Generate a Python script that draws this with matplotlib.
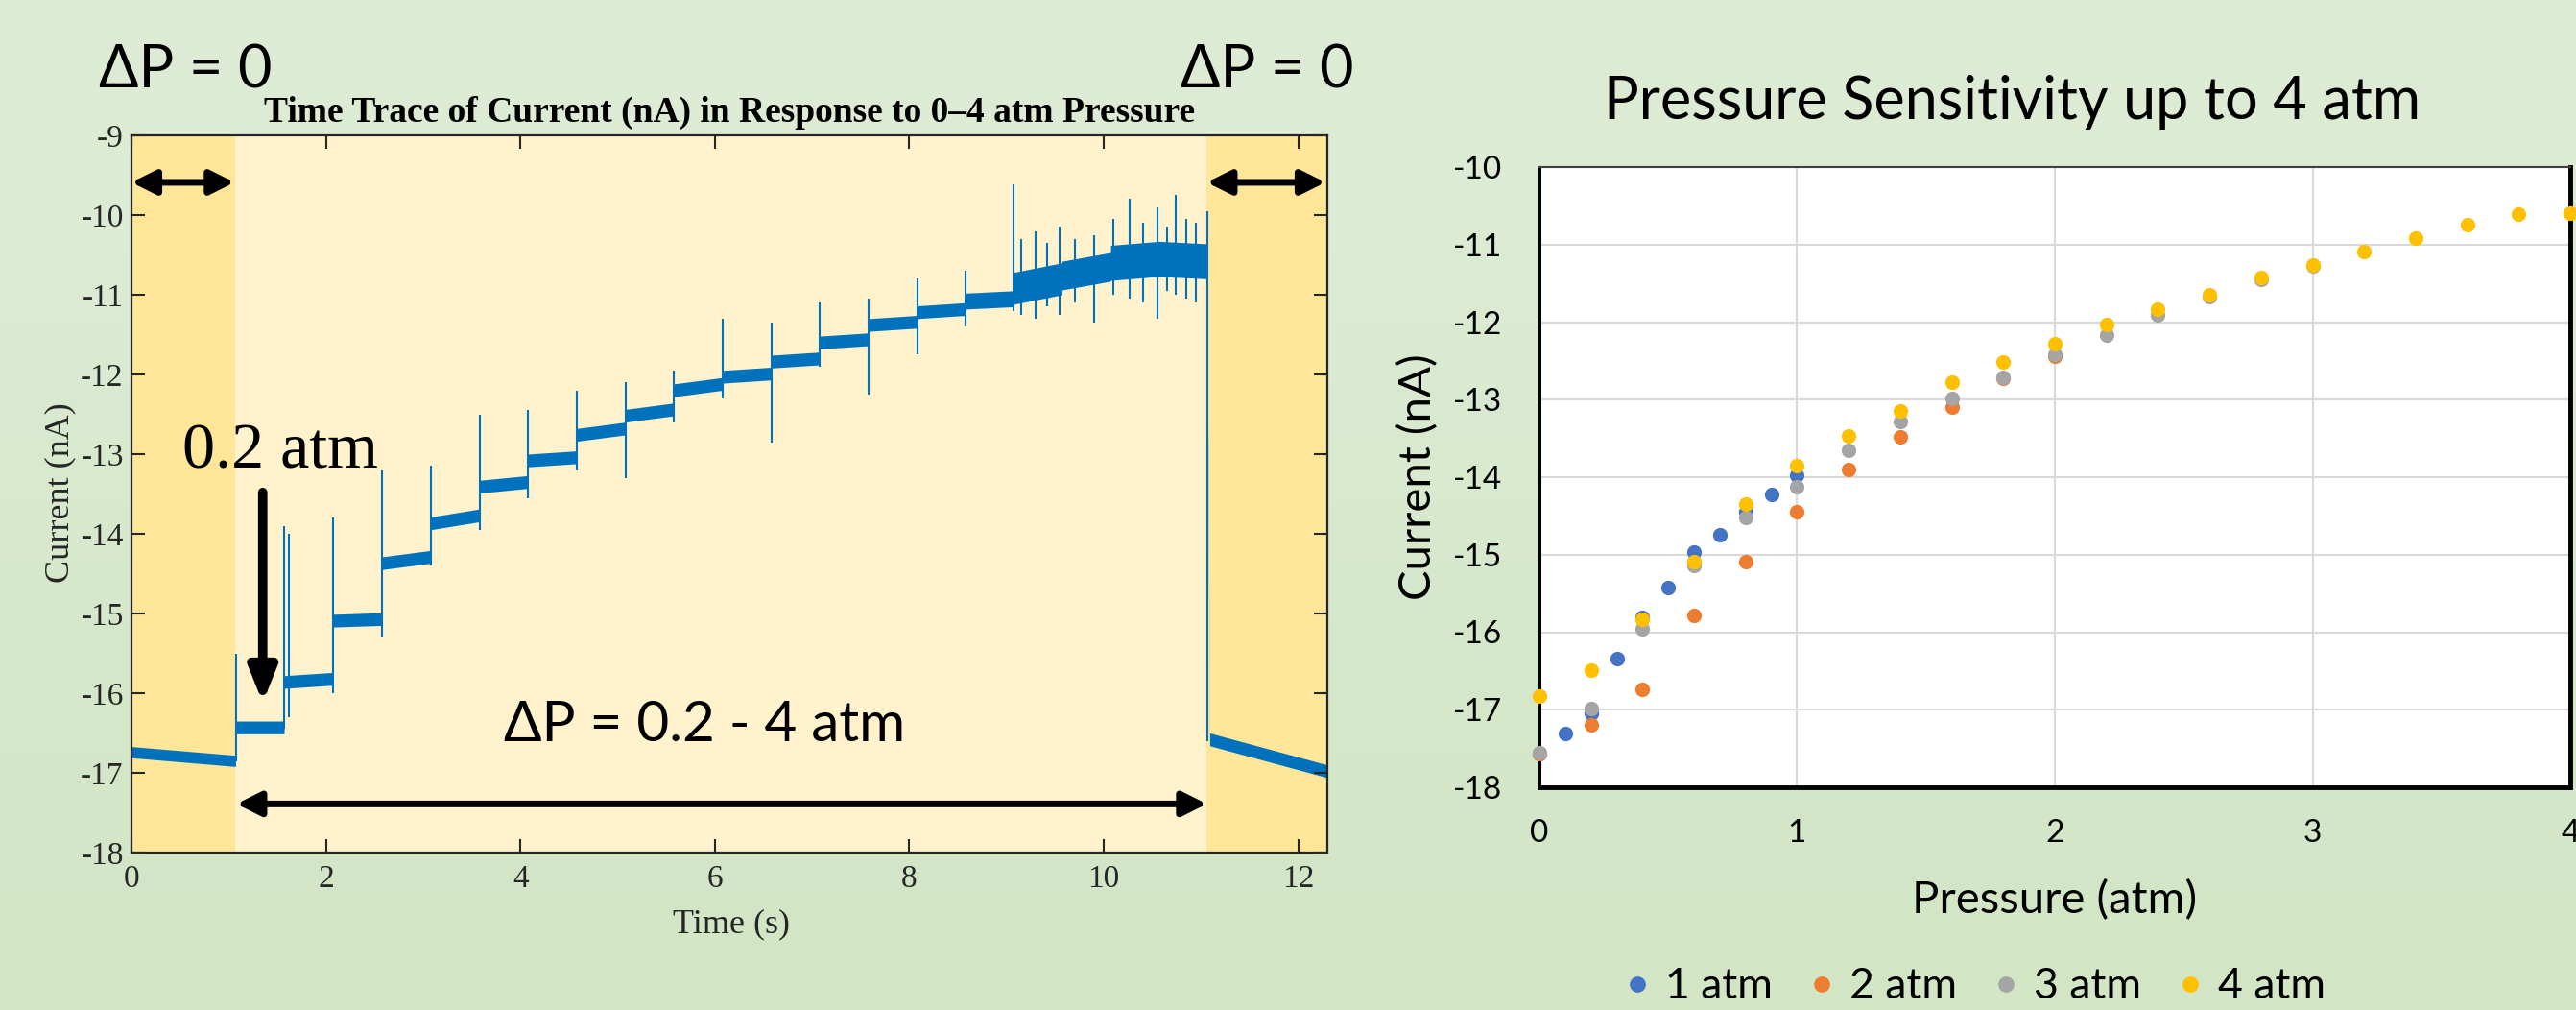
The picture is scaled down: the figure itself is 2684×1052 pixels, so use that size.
import numpy as np
import matplotlib.pyplot as plt
from matplotlib.lines import Line2D
from matplotlib.colors import LinearSegmentedColormap

plt.rcParams['axes.unicode_minus'] = False

# ---- left panel: current trace, step levels ----
seg_start = [0.0, 1.07, 1.57, 2.07, 2.57, 3.07, 3.57, 4.07, 4.57, 5.07, 5.57,
             6.07, 6.57, 7.07, 7.57, 8.07, 8.57, 9.07, 9.57, 10.07, 10.57, 11.09]
seg_end = [1.07, 1.57, 2.07, 2.57, 3.07, 3.57, 4.07, 4.57, 5.07, 5.57, 6.07,
           6.57, 7.07, 7.57, 8.07, 8.57, 9.07, 9.57, 10.07, 10.57, 11.06, 12.3]
level_start = [-16.74, -16.43, -15.86, -15.09, -14.37, -13.87, -13.41, -13.08, -12.76, -12.52, -12.20,
               -12.03, -11.84, -11.60, -11.38, -11.22, -11.08, -10.92, -10.76, -10.60, -10.55, -16.58]
level_end = [-16.85, -16.43, -15.82, -15.07, -14.29, -13.77, -13.35, -13.04, -12.68, -12.44, -12.12,
             -11.99, -11.80, -11.56, -11.34, -11.18, -11.05, -10.80, -10.65, -10.55, -10.58, -16.98]
noise = [0.07, 0.08, 0.08, 0.08, 0.08, 0.08, 0.08, 0.08, 0.08, 0.08, 0.08,
         0.08, 0.08, 0.08, 0.08, 0.08, 0.1, 0.2, 0.18, 0.22, 0.22, 0.08]

spike_t = [1.08, 1.57, 1.62, 2.07, 2.58, 3.08, 3.58, 4.08, 4.58, 5.08, 5.58, 6.08, 6.58,
           7.08, 7.58, 8.08, 8.58, 9.07, 9.15, 9.3, 9.42, 9.55, 9.7, 9.9, 10.1, 10.27, 10.4,
           10.55, 10.65, 10.74, 10.85, 10.95, 11.07]
spike_top = [-15.5, -13.9, -14.0, -13.8, -13.2, -13.15, -12.5, -12.45, -12.2, -12.1, -11.95, -11.3, -11.35,
             -11.1, -11.05, -10.8, -10.7, -9.62, -10.3, -10.2, -10.35, -10.15, -10.3, -10.25, -10.05, -9.8, -10.1,
             -9.9, -10.15, -9.75, -10.05, -10.1, -9.95]
spike_bot = [-16.85, -16.45, -16.3, -16.0, -15.3, -14.4, -13.95, -13.55, -13.2, -13.3, -12.6, -12.3, -12.85,
             -11.9, -12.25, -11.75, -11.4, -11.2, -11.25, -11.3, -11.15, -11.25, -11.1, -11.35, -11.0, -11.05, -11.1,
             -11.3, -10.95, -11.0, -11.05, -11.1, -16.6]

# ---- right panel: pressure sensitivity ----
p_1atm = [0.0, 0.1, 0.2, 0.3, 0.4, 0.5, 0.6, 0.7, 0.8, 0.9, 1.0]
i_1atm = [-17.57, -17.31, -17.05, -16.34, -15.81, -15.43, -14.97, -14.74, -14.45, -14.22, -13.97]
p_2atm = [0.0, 0.2, 0.4, 0.6, 0.8, 1.0, 1.2, 1.4, 1.6, 1.8, 2.0]
i_2atm = [-17.57, -17.19, -16.74, -15.78, -15.09, -14.45, -13.90, -13.48, -13.10, -12.73, -12.44]
p_3atm = [0.0, 0.2, 0.4, 0.6, 0.8, 1.0, 1.2, 1.4, 1.6, 1.8, 2.0, 2.2, 2.4, 2.6, 2.8, 3.0]
i_3atm = [-17.56, -16.99, -15.96, -15.14, -14.52, -14.13, -13.65, -13.28, -12.98, -12.71, -12.42,
          -12.17, -11.91, -11.67, -11.45, -11.28]
p_4atm = [0.0, 0.2, 0.4, 0.6, 0.8, 1.0, 1.2, 1.4, 1.6, 1.8, 2.0, 2.2, 2.4, 2.6, 2.8, 3.0,
          3.2, 3.4, 3.6, 3.8, 4.0]
i_4atm = [-16.82, -16.49, -15.83, -15.09, -14.35, -13.85, -13.47, -13.14, -12.78, -12.52, -12.28,
          -12.03, -11.83, -11.65, -11.43, -11.26, -11.09, -10.92, -10.74, -10.61, -10.60]

W, H = 2684, 1052
fig = plt.figure(figsize=(W / 100, H / 100), dpi=100)

# soft green gradient background
bg = fig.add_axes([0, 0, 1, 1], zorder=-10)
bg.imshow([[0], [1]], cmap=LinearSegmentedColormap.from_list('bg', ['#DEECD5', '#D2E6C6']),
          aspect='auto', extent=[0, 1, 0, 1], interpolation='bicubic')
bg.axis('off')

serif = 'Liberation Serif'
sans = ['Lato', 'DejaVu Sans']
ink = '#262626'
blue = '#0072BD'

# ================= left panel =================
ax = fig.add_axes([137 / W, 1 - 888 / H, (1383 - 137) / W, (888 - 141) / H])
ax.axvspan(0, 1.07, color='#FFE699', lw=0)
ax.axvspan(1.07, 11.06, color='#FFF2CC', lw=0)
ax.axvspan(11.06, 12.3, color='#FFE699', lw=0)

tt, lo, hi = [], [], []
for s, e, a, b, n in zip(seg_start, seg_end, level_start, level_end, noise):
    tt += [s, e]
    lo += [a - n, b - n]
    hi += [a + n, b + n]
ax.fill_between(tt, lo, hi, color=blue, lw=0)
ax.vlines(spike_t, spike_bot, spike_top, color=blue, lw=1.5)

ax.set_xlim(0, 12.3)
ax.set_ylim(-18, -9)
ax.set_xticks(range(0, 13, 2))
ax.set_yticks(range(-18, -8))
ax.tick_params(direction='in', top=True, right=True, length=10, width=1.5, colors=ink,
               labelsize=24)
ax.tick_params(axis='x', pad=9)
ax.tick_params(axis='y', pad=6)
for lab in ax.get_xticklabels() + ax.get_yticklabels():
    lab.set_fontfamily(serif)
for sp in ax.spines.values():
    sp.set_color(ink)
    sp.set_linewidth(1.6)

fig.text(760 / W, 1 - 117 / H, 'Time Trace of Current (nA) in Response to 0\u20134 atm Pressure',
         family=serif, weight='bold', fontsize=27, ha='center', va='center')
fig.text(63 / W, 1 - 513 / H, 'Current (nA)', family=serif, fontsize=26, color=ink,
         rotation=90, ha='center', va='center')
fig.text(762 / W, 1 - 963 / H, 'Time (s)', family=serif, fontsize=26, color=ink,
         ha='center', va='center')

# arrows
two_head = dict(arrowstyle='<|-|>,head_length=0.6,head_width=0.3', lw=5, color='black',
                mutation_scale=25, shrinkA=0, shrinkB=0)
ax.annotate('', xy=(0.0, -9.59), xytext=(1.06, -9.59), arrowprops=two_head)
ax.annotate('', xy=(11.06, -9.59), xytext=(12.28, -9.59), arrowprops=two_head)
ax.annotate('', xy=(1.08, -17.39), xytext=(11.06, -17.39), arrowprops=two_head)
ax.annotate('', xy=(1.35, -16.12), xytext=(1.35, -13.48),
            arrowprops=dict(arrowstyle='-|>,head_length=0.75,head_width=0.3', lw=7,
                            color='black', mutation_scale=28, shrinkA=0, shrinkB=0))

fig.text(103 / W, 1 - 92 / H, '\u0394P = 0', family=sans, fontsize=44, ha='left', va='baseline')
fig.text(1230 / W, 1 - 92 / H, '\u0394P = 0', family=sans, fontsize=44, ha='left', va='baseline')
fig.text(525 / W, 1 - 772 / H, '\u0394P = 0.2 - 4 atm', family=sans, fontsize=42,
         ha='left', va='baseline')
fig.text(190 / W, 1 - 487 / H, '0.2 atm', family=serif, fontsize=49, ha='left', va='baseline')

# ================= right panel =================
ax2 = fig.add_axes([1604 / W, 1 - 820 / H, (2678 - 1604) / W, (820 - 174) / H])
ax2.set_facecolor('white')
series = [(p_1atm, i_1atm, '#4472C4', '1 atm'),
          (p_2atm, i_2atm, '#ED7D31', '2 atm'),
          (p_3atm, i_3atm, '#A5A5A5', '3 atm'),
          (p_4atm, i_4atm, '#FFC000', '4 atm')]
for px, cy, col, lab in series:
    ax2.scatter(px, cy, s=120, color=col, lw=0, zorder=3, clip_on=False)

ax2.set_xlim(0, 4)
ax2.set_ylim(-18, -10)
ax2.set_xticks(range(0, 5))
ax2.set_yticks(range(-18, -9))
ax2.grid(True, color='#D9D9D9', lw=1.5)
ax2.set_axisbelow(True)
ax2.tick_params(length=0, labelsize=24)
ax2.tick_params(axis='x', pad=24)
ax2.tick_params(axis='y', pad=28)
for lab in ax2.get_xticklabels() + ax2.get_yticklabels():
    lab.set_fontfamily(sans)
ax2.spines['top'].set_color('#404040')
ax2.spines['top'].set_linewidth(1.5)
ax2.spines['left'].set_color('black')
ax2.spines['left'].set_linewidth(2.2)
ax2.spines['right'].set_color('black')
ax2.spines['right'].set_linewidth(3.5)
ax2.spines['bottom'].set_color('black')
ax2.spines['bottom'].set_linewidth(3.5)

fig.text(2097 / W, 1 - 124 / H, 'Pressure Sensitivity up to 4 atm', family=sans, fontsize=44,
         ha='center', va='baseline')
fig.text(1478 / W, 1 - 497 / H, 'Current (nA)', family=sans, fontsize=34, rotation=90,
         ha='center', va='center')
fig.text(2141 / W, 1 - 938 / H, 'Pressure (atm)', family=sans, fontsize=34,
         ha='center', va='center')

handles = [Line2D([], [], ls='none', marker='o', ms=11, mfc=c, mec=c) for _, _, c, _ in series]
fig.legend(handles, [s[3] for s in series], loc='center', bbox_to_anchor=(2058 / W, 1 - 1028 / H),
           ncol=4, frameon=False, prop={'family': sans, 'size': 32}, handlelength=0.6,
           handletextpad=0.35, columnspacing=0.85, borderpad=0)

fig.savefig('out.png', dpi=100)
